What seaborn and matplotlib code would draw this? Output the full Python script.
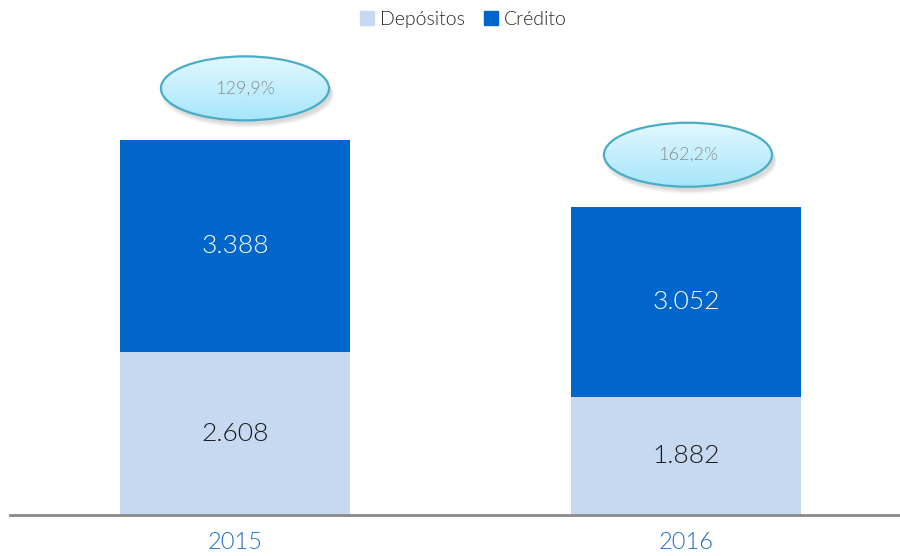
import numpy as np
import pandas as pd
import matplotlib
matplotlib.use("Agg")
import matplotlib.pyplot as plt
import seaborn as sns
from matplotlib.patches import Ellipse, Patch

# Datos
anios = ["2015", "2016"]
depositos = [2608, 1882]
credito = [3388, 3052]
ratios = ["129,9%", "162,2%"]

df = pd.DataFrame({"anio": anios, "Depósitos": depositos, "Crédito": credito})
df["total"] = df["Depósitos"] + df["Crédito"]

sns.set_theme(style="white")
plt.rcParams["font.family"] = ["Lato", "DejaVu Sans"]
plt.rcParams["font.weight"] = 300
W = 300

col_dep = "#c6d9f1"
col_cred = "#0066cc"

fig = plt.figure(figsize=(9, 5.56), dpi=100)
ax = fig.add_axes([0.011, 0.0737, 0.989, 0.9263])

# barras apiladas: total (crédito) y encima depósitos
sns.barplot(data=df, x="anio", y="total", color=col_cred, width=0.51,
            saturation=1, linewidth=0, ax=ax)
sns.barplot(data=df, x="anio", y="Depósitos", color=col_dep, width=0.51,
            saturation=1, linewidth=0, ax=ax)

ax.set_xlabel("")
ax.set_ylabel("")
ax.set_yticks([])
for s in ["top", "right", "left"]:
    ax.spines[s].set_visible(False)
ax.spines["bottom"].set_color("#898989")
ax.spines["bottom"].set_linewidth(2)
ax.tick_params(axis="x", length=0, pad=12, labelsize=17, labelcolor="#1f6fc6")
for t in ax.get_xticklabels():
    t.set_fontweight(W)

# etiquetas de valores
for i, row in df.iterrows():
    ax.text(i, row["Depósitos"] / 2, f"{row['Depósitos']:,}".replace(",", "."),
            ha="center", va="center", fontsize=19, color="#1a1a1a", fontweight=W)
    ax.text(i, row["Depósitos"] + row["Crédito"] / 2,
            f"{row['Crédito']:,}".replace(",", "."),
            ha="center", va="center", fontsize=19, color="white", fontweight=W)

# elipses con ratio
grad = np.linspace(0, 1, 100).reshape(-1, 1)
cmap = matplotlib.colors.LinearSegmentedColormap.from_list("cy", ["#a6e6fa", "#e2f8ff"])
offsets = [0.022, 0.004]
for i, row in df.iterrows():
    cx = i + offsets[i]
    cy = row["total"] + 830
    w, h = 0.3725, 1024
    for k in range(3):
        sh = Ellipse((cx + 0.006, cy - 60 - 25 * k), w + 0.004 * k, h, facecolor="#000000",
                     alpha=0.05, edgecolor="none", zorder=4)
        ax.add_patch(sh)
    el = Ellipse((cx, cy), w, h, facecolor="none", edgecolor="#4bacc6",
                 linewidth=1.6, zorder=6)
    ax.add_patch(el)
    im = ax.imshow(grad, cmap=cmap, aspect="auto", origin="lower",
                   extent=[cx - w / 2, cx + w / 2, cy - h / 2, cy + h / 2], zorder=5)
    im.set_clip_path(el)
    ax.text(cx, cy, ratios[i], ha="center", va="center", fontsize=13,
            color="#8c8c8c", fontweight=W, zorder=7)

ax.set_xlim(-0.499, 1.474)
ax.set_ylim(0, 8240)

handles = [Patch(color=col_dep, label="Depósitos"), Patch(color=col_cred, label="Crédito")]
fig.legend(handles=handles, loc="upper center", bbox_to_anchor=(0.515, 1.012), ncol=2,
           frameon=False, prop={"size": 14, "weight": W}, handlelength=0.7,
           handleheight=0.7, handletextpad=0.3, columnspacing=1.0)

fig.savefig("out.png", dpi=100)
